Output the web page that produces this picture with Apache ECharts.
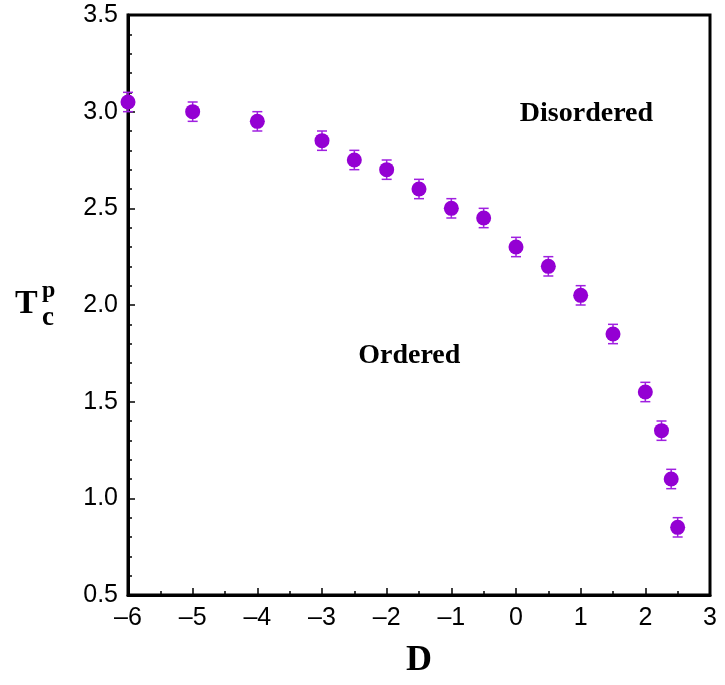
<!DOCTYPE html>
<html><head><meta charset="utf-8">
<script src="https://cdn.jsdelivr.net/npm/echarts@6/dist/echarts.min.js"></script>
<style>html,body{margin:0;padding:0;background:#fff}#c{width:725px;height:685px}</style>
</head><body><div id="c"></div>
<script>
const D = [-6, -5, -4, -3, -2.5, -2, -1.5, -1, -0.5, 0, 0.5, 1, 1.5, 2, 2.25, 2.4, 2.5];
const Tc = [3.05, 3.0, 2.95, 2.85, 2.75, 2.70, 2.60, 2.50, 2.45, 2.30, 2.20, 2.05, 1.85, 1.55, 1.35, 1.10, 0.85];
const err = [0.05, 0.05, 0.05, 0.05, 0.05, 0.05, 0.05, 0.05, 0.05, 0.05, 0.05, 0.05, 0.05, 0.05, 0.05, 0.05, 0.05];
const xTicks = [-6, -5, -4, -3, -2, -1, 0, 1, 2, 3];
const yTicks = [0.5, 1.0, 1.5, 2.0, 2.5, 3.0, 3.5];
const regionLabels = [{text: 'Disordered', x: 1.09, y: 2.99}, {text: 'Ordered', x: -1.65, y: 1.74}];

const chart = echarts.init(document.getElementById('c'));
const pts = D.map((d, i) => [d, Tc[i]]);
const errData = D.map((d, i) => [d, Tc[i] - err[i], Tc[i] + err[i]]);
const tickFont = {fontFamily: 'Liberation Sans, Arial, sans-serif', fontSize: 25, color: '#000'};
const serif = 'Liberation Serif, Times New Roman, serif';
const option = {
  animation: false,
  grid: {left: 128, right: 15, top: 15, bottom: 90, show: true, borderColor: '#000', borderWidth: 3, backgroundColor: 'transparent'},
  xAxis: {
    type: 'value', min: -6, max: 3, interval: 1,
    axisLine: {show: true, onZero: false, lineStyle: {color: '#000', width: 3}},
    axisTick: {show: true, inside: true, length: 7, lineStyle: {color: '#000', width: 1.5}},
    minorTick: {show: true, splitNumber: 2, length: 4, lineStyle: {color: '#000', width: 1.5}},
    splitLine: {show: false},
    axisLabel: Object.assign({margin: 11, formatter: v => xTicks.includes(v) ? String(v).replace('-', '\u2013') : ''}, tickFont),
    name: 'D', nameLocation: 'middle', nameGap: 48,
    nameTextStyle: {fontFamily: serif, fontWeight: 'bold', fontSize: 36, color: '#000'}
  },
  yAxis: {
    type: 'value', min: 0.5, max: 3.5, interval: 0.5,
    axisLine: {show: true, onZero: false, lineStyle: {color: '#000', width: 3}},
    axisTick: {show: true, inside: true, length: 7, lineStyle: {color: '#000', width: 1.5}},
    minorTick: {show: true, splitNumber: 5, length: 4, lineStyle: {color: '#000', width: 1.5}},
    splitLine: {show: false},
    axisLabel: Object.assign({margin: 10, formatter: v => yTicks.some(t => Math.abs(t - v) < 1e-9) ? v.toFixed(1) : ''}, tickFont)
  },
  series: [
    {
      type: 'custom',
      data: errData,
      z: 2,
      renderItem: function (params, api) {
        const x = api.value(0);
        const lo = api.coord([x, api.value(1)]);
        const hi = api.coord([x, api.value(2)]);
        const w = 5;
        const st = {stroke: '#a020e0', lineWidth: 1.5, fill: null};
        return {type: 'group', children: [
          {type: 'line', shape: {x1: lo[0], y1: lo[1], x2: hi[0], y2: hi[1]}, style: st},
          {type: 'line', shape: {x1: lo[0] - w, y1: lo[1], x2: lo[0] + w, y2: lo[1]}, style: st},
          {type: 'line', shape: {x1: hi[0] - w, y1: hi[1], x2: hi[0] + w, y2: hi[1]}, style: st}
        ]};
      }
    },
    {
      type: 'scatter', data: pts, symbol: 'circle', symbolSize: 15, z: 3,
      itemStyle: {color: '#9400d3', opacity: 1}
    }
  ]
};
chart.setOption(option);

const graphics = regionLabels.map(l => {
  const p = chart.convertToPixel({gridIndex: 0}, [l.x, l.y]);
  return {type: 'text', x: p[0], y: p[1], style: {text: l.text, fontFamily: serif, fontWeight: 'bold', fontSize: 28, fill: '#000', align: 'center', verticalAlign: 'middle'}};
});
graphics.push({type: 'text', x: 15, y: 287, style: {text: 'T', fontFamily: serif, fontWeight: 'bold', fontSize: 34, fill: '#000'}});
graphics.push({type: 'text', x: 42, y: 279, style: {text: 'p', fontFamily: serif, fontWeight: 'bold', fontSize: 24, fill: '#000'}});
graphics.push({type: 'text', x: 42, y: 305, style: {text: 'c', fontFamily: serif, fontWeight: 'bold', fontSize: 27, fill: '#000'}});
chart.setOption({graphic: graphics});
</script></body></html>
